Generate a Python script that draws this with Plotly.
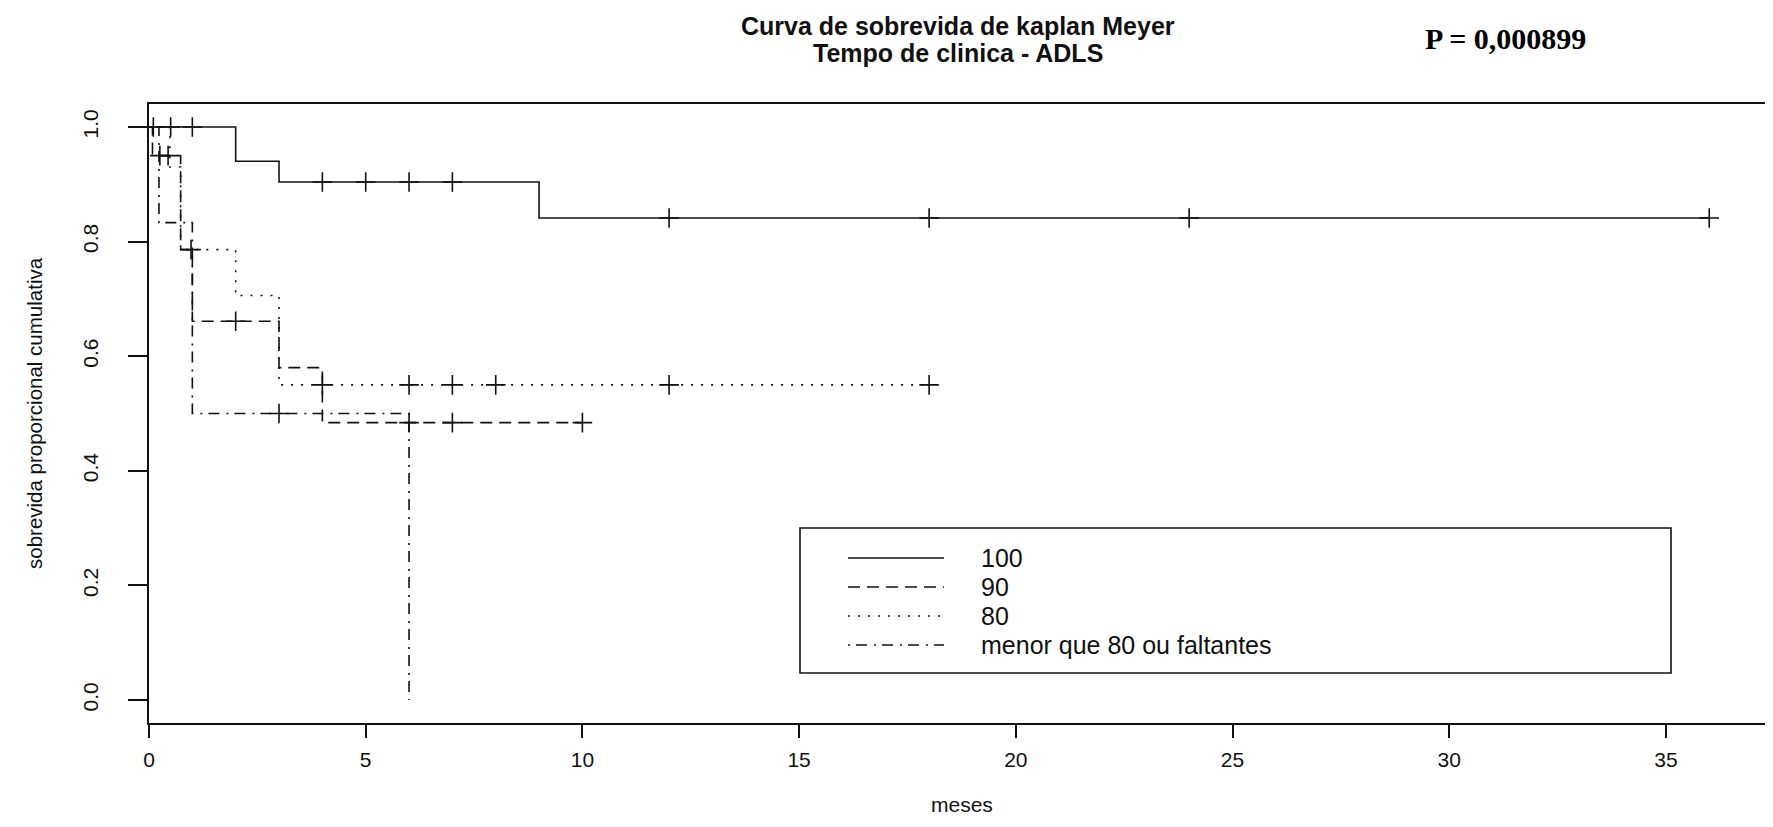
import numpy as np
import plotly.graph_objects as go

# ---------------- data ----------------
grupos = ["100", "90", "80", "menor que 80 ou faltantes"]

# Kaplan-Meier step functions: time of each step and survival after it
tempo_100 = [0, 2, 3, 9, 36]
sobrev_100 = [1.0, 0.94, 0.904, 0.841, 0.841]
censura_100 = [0.1, 0.5, 1, 4, 5, 6, 7, 12, 18, 24, 36]

tempo_90 = [0, 0.08, 0.73, 1, 3, 4, 10]
sobrev_90 = [1.0, 0.95, 0.786, 0.661, 0.58, 0.484, 0.484]
censura_90 = [0.25, 0.44, 2, 6, 7, 10]

tempo_80 = [0, 0.48, 0.73, 2, 3, 18]
sobrev_80 = [1.0, 0.93, 0.786, 0.706, 0.55, 0.55]
censura_80 = [0.97, 4, 6, 7, 8, 12, 18]

tempo_m80 = [0, 0.23, 1, 6]
sobrev_m80 = [1.0, 0.833, 0.5, 0.0]
censura_m80 = [3]

x_ticks = [0, 5, 10, 15, 20, 25, 30, 35]
y_ticks = [0.0, 0.2, 0.4, 0.6, 0.8, 1.0]
y_ticktext = ["0.0", "0.2", "0.4", "0.6", "0.8", "1.0"]

titulo_linhas = ["Curva de sobrevida de kaplan Meyer", "Tempo de clinica - ADLS"]
p_valor = "P = 0,000899"
x_titulo = "meses"
y_titulo = "sobrevida proporcional cumulativa"

# ---------------- styles ----------------
PAGE_W, PAGE_H = 1773, 827
BODY = 8                      # default page margin of the html body
W, H = PAGE_W - BODY, PAGE_H - BODY
# plot box in page pixels
BOX_L, BOX_T, BOX_B = 149, 104, 723
ML, MR, MT, MB = BOX_L - BODY, 0, BOX_T - BODY, PAGE_H - BOX_B
PLOT_W = W - ML - MR
PLOT_H = H - MT - MB

dashes = ["solid", "12px,7px", "2px,8px", "2px,6px,11px,7px"]
LW = 1.6
INK = "#111111"
SANS = "Liberation Sans, Arial"


def step_value(tempos, sobrev, t):
    idx = np.searchsorted(np.asarray(tempos, float), t, side="right") - 1
    return np.asarray(sobrev, float)[idx]


def px(xp):
    """page x pixel -> paper x"""
    return (xp - BOX_L) / PLOT_W


def py(yp):
    """page y pixel -> paper y"""
    return (BOX_B - yp) / PLOT_H


curvas = [
    (tempo_100, sobrev_100, censura_100),
    (tempo_90, sobrev_90, censura_90),
    (tempo_80, sobrev_80, censura_80),
    (tempo_m80, sobrev_m80, censura_m80),
]

fig = go.Figure()
for nome, dash, (tt, ss, cc) in zip(grupos, dashes, curvas):
    fig.add_trace(go.Scatter(
        x=tt, y=ss, mode="lines", name=nome,
        line=dict(shape="hv", color=INK, width=LW, dash=dash),
        showlegend=False, hoverinfo="skip"))
    fig.add_trace(go.Scatter(
        x=cc, y=[step_value(tt, ss, c) for c in cc], mode="markers",
        name=nome + " (censura)",
        marker=dict(symbol="cross-thin", size=14, color=INK,
                    line=dict(width=LW, color=INK)),
        showlegend=False, hoverinfo="skip"))

# x range so that the plot box runs off the right edge like the reference
x_per_px = 5 / 216.7
x_max = PLOT_W * x_per_px

fig.update_xaxes(
    range=[0, x_max], tickvals=x_ticks, ticktext=[str(v) for v in x_ticks],
    showline=True, linecolor=INK, linewidth=LW, mirror=True,
    ticks="outside", ticklen=13, tickwidth=LW, tickcolor=INK,
    showgrid=False, zeroline=False, ticklabelstandoff=4,
    tickfont=dict(family=SANS, size=21, color=INK))
fig.update_yaxes(
    range=[-0.04, 1.04], tickvals=y_ticks, ticktext=y_ticktext,
    showline=True, linecolor=INK, linewidth=LW, mirror=False,
    ticks="outside", ticklen=19, tickwidth=LW, tickcolor=INK,
    showgrid=False, zeroline=False, tickangle=-90, ticklabelstandoff=22,
    tickfont=dict(family=SANS, size=21, color=INK))

shapes = []
annotations = []

# legend box (drawn manually to reproduce R's wide legend)
bx0, bx1, by0, by1 = 800, 1671, 528, 673
shapes.append(dict(type="rect", xref="paper", yref="paper",
                   x0=px(bx0), x1=px(bx1), y0=py(by1), y1=py(by0),
                   line=dict(color=INK, width=LW), fillcolor="white",
                   layer="above"))
rows = [558, 587, 616, 645]
for nome, dash, ry in zip(grupos, dashes, rows):
    shapes.append(dict(type="line", xref="paper", yref="paper",
                       x0=px(848), x1=px(944), y0=py(ry), y1=py(ry),
                       line=dict(color=INK, width=LW, dash=dash),
                       layer="above"))
    annotations.append(dict(text=nome, xref="paper", yref="paper",
                            x=px(979), y=py(ry), xanchor="left",
                            yanchor="middle", showarrow=False,
                            font=dict(family=SANS, size=25, color=INK)))

# title (two lines, R-style bold)
for linha, ly in zip(titulo_linhas, [26.5, 53]):
    annotations.append(dict(text="<b>" + linha + "</b>",
                            xref="paper", yref="paper",
                            x=px(958), y=py(ly), xanchor="center",
                            yanchor="middle", showarrow=False, borderpad=0,
                            font=dict(family=SANS, size=25, color=INK)))
annotations.append(dict(text="<b>" + p_valor + "</b>", xref="paper",
                        yref="paper", x=px(1505), y=py(38), xanchor="center",
                        yanchor="middle", showarrow=False,
                        font=dict(family="Liberation Serif, Times New Roman",
                                  size=30, color="#000000")))
# axis titles
annotations.append(dict(text=x_titulo, xref="paper", yref="paper",
                        x=px(962), y=py(804), xanchor="center",
                        yanchor="middle", showarrow=False,
                        font=dict(family=SANS, size=21, color=INK)))
annotations.append(dict(text=y_titulo, xref="paper", yref="paper",
                        x=px(34), y=py(413), xanchor="center",
                        yanchor="middle", showarrow=False, textangle=-90,
                        font=dict(family=SANS, size=20.5, color=INK)))

fig.update_layout(
    width=W, height=H,
    margin=dict(l=ML, r=MR, t=MT, b=MB, autoexpand=False),
    paper_bgcolor="white", plot_bgcolor="white",
    shapes=shapes, annotations=annotations, showlegend=False)

fig.write_html("out.html")
